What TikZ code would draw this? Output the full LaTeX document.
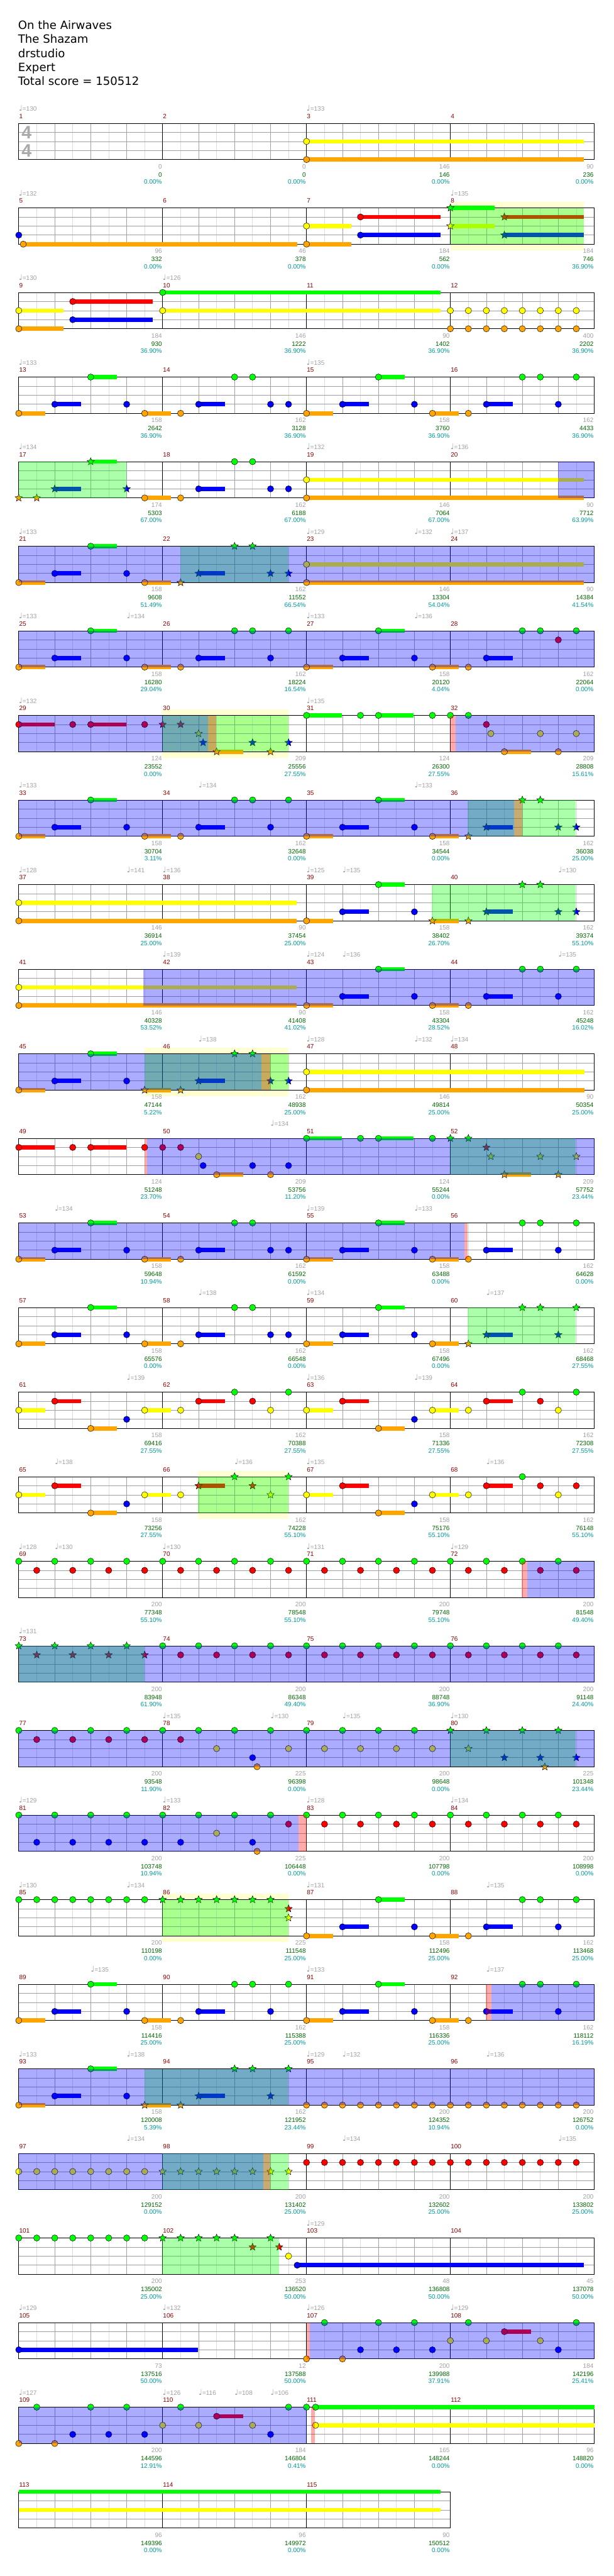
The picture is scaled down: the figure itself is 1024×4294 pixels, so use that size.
\documentclass[tikz,border=0pt]{standalone}
\usepackage{fontspec}
\setmainfont{DejaVu Sans}
\newfontfamily\labfont{Liberation Sans}
\newfontfamily\notefont{DejaVu Sans}
\usetikzlibrary{shapes.geometric}
\definecolor{lane0}{HTML}{00FF00}
\definecolor{lane1}{HTML}{FF0000}
\definecolor{lane2}{HTML}{FFFF00}
\definecolor{lane3}{HTML}{0000FF}
\definecolor{lane4}{HTML}{FFA500}
\definecolor{gridlt}{HTML}{DCDCDC}
\definecolor{gridmd}{HTML}{A0A0A0}
\definecolor{mnumred}{HTML}{8B0000}
\definecolor{labgray}{HTML}{A0A0A0}
\definecolor{labgreen}{HTML}{006400}
\definecolor{labteal}{HTML}{009999}
\definecolor{bandyel}{HTML}{FFFFD2}
\definecolor{tsiggray}{HTML}{AAAAAA}

\def\spA{-9}\def\spB{-9}
\newcommand\qn{{\notefont\fontsize{13}{13}\selectfont ♩}}
\newcommand\nt[2]{%
  \pgfmathtruncatemacro\isst{and(#1>\spA-0.05,#1<\spB+0.05)}%
  \ifnum\isst=1 \node[snote, fill=lane#2] at (#1,#2) {};%
  \else \node[cnote, fill=lane#2] at (#1,#2) {};\fi}
\newcommand\sus[3]{\draw[susline, lane#2] (#1,#2) -- (#3,#2); \nt{#1}{#2}}
\newcommand\riff[3]{%
  \sus{#1+2}{3}{#1+3.47}\sus{#1+4}{0}{#1+5.47}\nt{#1+6}{3}%
  \sus{#1+7}{4}{#1+8.47}\nt{#1+9}{4}\sus{#1+10}{3}{#1+11.47}%
  \nt{#1+12}{0}\nt{#1+13}{0}\nt{#1+14}{#2}\nt{#1+15}{#3}}
\newcommand\riffC{%
  \sus{0}{1}{1.98}\nt{3}{1}\sus{4}{1}{5.98}\nt{7}{1}\nt{8}{1}\nt{9}{1}%
  \nt{10}{2}\nt{10.25}{3}\sus{11}{4}{12.47}\nt{13}{3}\nt{14}{4}\nt{15}{3}%
  \sus{16}{0}{17.96}\nt{19}{0}\sus{20}{0}{21.96}\nt{23}{0}\nt{24}{0}\nt{25}{0}%
  \nt{26}{1}\nt{26.25}{2}\sus{27}{4}{28.47}\nt{29}{2}\nt{30}{4}\nt{31}{2}}
\newcommand\riffD[1]{%
  \sus{0}{2}{1.47}\sus{2}{1}{3.47}\sus{4}{4}{5.47}\nt{6}{3}\sus{7}{2}{8.47}\nt{9}{2}%
  \sus{10}{1}{11.47}\nt{12}{0}\nt{13}{1}\nt{14}{2}\nt{15}{0}%
  \sus{16}{2}{17.47}\sus{18}{1}{19.47}\sus{20}{4}{21.47}\nt{22}{3}\sus{23}{2}{24.47}\nt{25}{2}%
  \sus{26}{1}{27.47}\nt{28}{0}\nt{29}{1}\nt{30}{2}\nt{31}{#1}}
\newcommand\staff[2]{%
  \pgfmathtruncatemacro\qlast{8*#1-1}%
  \pgfmathtruncatemacro\klast{#1-1}%
  \foreach \q in {1,3,...,\qlast} \draw[gridlight] (\q,0) -- (\q,4);
  \foreach \q in {2,4,...,\qlast} \draw[gridbeat] (\q,0) -- (\q,4);
  \foreach \l in {1,2,3} \draw[gridbeat] (0,\l) -- (8*#1,\l);
  \foreach \k in {1,...,\klast} \draw[measline] (8*\k,0) -- (8*\k,4);
  \draw[measline] (0,0) rectangle (8*#1,4);
  \foreach \k in {0,...,\klast} {\pgfmathtruncatemacro\mn{#2+\k}\node[mnum] at (8*\k,0) {\mn};}}
\newcommand\tempi[1]{\foreach \p/\t in {#1} {\node[tempo] at (\p,0) {\qn=\t};}}
\newcommand\mlabels[1]{\foreach \k/\a/\b/\c in {#1} {%
  \node[lblA] at (8*\k,4) {\a};
  \node[lblB] at (8*\k,4) {\b};
  \node[lblC] at (8*\k,4) {\c\%};}}
\newcommand\band[2]{\fill[bandyel] (#1,-0.66) rectangle (#2,4.66);}
\newcommand\spzone{\fill[spfill] (\spA,0) rectangle (\spB,4);}
\newcommand\solo[2]{\fill[solofill] (#1,0) rectangle (#2,4);}
\newcommand\cutzone[2]{\fill[cutfill] (#1,0) rectangle (#2,4);}

\begin{document}
\begin{tikzpicture}[x=1pt, y=-1pt,
  rowat/.style={shift={(31.3pt,{-205.5pt-141pt*#1})}, x=30pt, y=-15.125pt},
  lab/.style={font={\labfont\fontsize{10.5}{12}\selectfont}, inner sep=0pt},
  title/.style={font={\fontsize{19}{23}\selectfont}, anchor=base west, inner sep=0pt},
  tsig/.style={font={\labfont\bfseries\fontsize{30}{30}\selectfont}, text=tsiggray, anchor=base, inner sep=0pt},
  mnum/.style={lab, text=mnumred, anchor=base west, yshift=8pt, xshift=0.5pt},
  tempo/.style={lab, text=labgray, anchor=base west, yshift=20pt},
  lblA/.style={lab, text=labgray, anchor=base east, xshift=-1pt, yshift=-15.3pt},
  lblB/.style={lab, text=labgreen, anchor=base east, xshift=-1pt, yshift=-28.7pt},
  lblC/.style={lab, text=labteal, anchor=base east, xshift=-1pt, yshift=-41pt},
  gridlight/.style={gridlt, line width=0.8pt},
  gridbeat/.style={gridmd, line width=0.8pt},
  measline/.style={black, line width=0.9pt},
  cnote/.style={circle, draw=black, line width=0.5pt, inner sep=0pt, minimum size=10.5pt},
  snote/.style={star, star points=5, star point ratio=2.3, draw=black, line width=0.5pt, inner sep=0pt, minimum size=13pt},
  susline/.style={line width=7pt},
  spfill/.style={fill=lane0, fill opacity=0.33},
  solofill/.style={fill=lane3, fill opacity=0.33},
  cutfill/.style={fill=lane1, fill opacity=0.33}
]
\useasboundingbox (0,0) rectangle (1024,4294);

\node[title] (song) at (30,49) {On the Airwaves};
\node[title] (artist) at (30,72.2) {The Shazam};
\node[title] (charter) at (30,95.4) {drstudio};
\node[title] (diff) at (30,118.6) {Expert};
\node[title] (score) at (30,141.8) {Total score = 150512};

% measures 1-4
\begin{scope}[rowat=0]
  \staff{4}{1}
  \tempi{0/130,16/133}
  \sus{16}{2}{31.43}\sus{16}{4}{31.43}
  \mlabels{1/0/0/0.00,2/0/0/0.00,3/146/146/0.00,4/90/236/0.00}
\end{scope}
\node[tsig] (tsup) at (44.5,231) {4};
\node[tsig] (tsdn) at (44.5,262) {4};

% measures 5-8
\begin{scope}[rowat=1]
  \def\spA{24}\def\spB{31.43}
  \band{24}{31.43}
  \staff{4}{5}
  \tempi{0/132,24/135}
  \nt{0}{3}\sus{0.25}{4}{15.48}
  \sus{16}{2}{18.48}\sus{16}{4}{18.48}\sus{19}{1}{23.47}\sus{19}{3}{23.47}
  \sus{24}{0}{26.46}\sus{24}{2}{26.46}\sus{27}{1}{31.43}\sus{27}{3}{31.43}
  \spzone
  \mlabels{1/96/332/0.00,2/46/378/0.00,3/184/562/0.00,4/184/746/36.90}
\end{scope}

% measures 9-12
\begin{scope}[rowat=2]
  \staff{4}{9}
  \tempi{0/130,8/126}
  \sus{0}{2}{2.48}\sus{0}{4}{2.48}\sus{3}{1}{7.46}\sus{3}{3}{7.46}
  \sus{8}{0}{23.46}\sus{8}{2}{23.46}
  \foreach \p in {24,...,31} {\nt{\p}{2}\nt{\p}{4}}
  \mlabels{1/184/930/36.90,2/146/1222/36.90,3/90/1402/36.90,4/400/2202/36.90}
\end{scope}

% measures 13-16
\begin{scope}[rowat=3]
  \staff{4}{13}
  \tempi{0/133,16/135}
  \sus{0}{4}{1.47}\riff{0}{3}{3}\sus{16}{4}{17.47}\riff{16}{3}{0}
  \mlabels{1/158/2642/36.90,2/162/3128/36.90,3/158/3760/36.90,4/162/4433/36.90}
\end{scope}

% measures 17-20
\begin{scope}[rowat=4]
  \def\spA{0}\def\spB{5.98}
  \staff{4}{17}
  \tempi{0/134,16/132,24/136}
  \nt{0}{4}\nt{1}{4}\riff{0}{3}{3}
  \sus{16}{2}{31.41}\sus{16}{4}{31.41}
  \spzone\solo{30}{32}
  \mlabels{1/174/5303/67.00,2/162/6188/67.00,3/146/7064/67.00,4/90/7712/63.99}
\end{scope}

% measures 21-24
\begin{scope}[rowat=5]
  \def\spA{8.98}\def\spB{14.98}
  \staff{4}{21}
  \tempi{0/133,16/129,22/132,24/137}
  \sus{0}{4}{1.47}\riff{0}{3}{3}
  \sus{16}{2}{31.41}\sus{16}{4}{31.41}
  \spzone\solo{0}{32}
  \mlabels{1/158/9608/51.49,2/162/11552/66.54,3/146/13304/54.04,4/90/14384/41.54}
\end{scope}

% measures 25-28
\begin{scope}[rowat=6]
  \staff{4}{25}
  \tempi{0/133,6/134,16/133,22/136}
  \sus{0}{4}{1.47}\riff{0}{3}{0}\sus{16}{4}{17.47}\riff{16}{1}{0}
  \solo{0}{32}
  \mlabels{1/158/16280/29.04,2/162/18224/16.54,3/158/20120/4.04,4/162/22064/0.00}
\end{scope}

% measures 29-32
\begin{scope}[rowat=7]
  \def\spA{7.98}\def\spB{14.98}
  \band{7.98}{14.98}
  \staff{4}{29}
  \tempi{0/132,16/135}
  \riffC
  \spzone\solo{0}{10.54}\cutzone{10.54}{10.98}\cutzone{23.96}{24.28}\solo{24.28}{32}
  \mlabels{1/124/23552/0.00,2/209/25556/27.55,3/124/26300/27.55,4/209/28808/15.61}
\end{scope}

% measures 33-36
\begin{scope}[rowat=8]
  \def\spA{24.96}\def\spB{30.96}
  \staff{4}{33}
  \tempi{0/133,10/134,22/133}
  \sus{0}{4}{1.47}\riff{0}{3}{0}\sus{16}{4}{17.47}\riff{16}{3}{3}
  \spzone\solo{0}{27.54}\cutzone{27.54}{27.98}
  \mlabels{1/158/30704/3.11,2/162/32648/0.00,3/158/34544/0.00,4/162/36038/25.00}
\end{scope}

% measures 37-40
\begin{scope}[rowat=9]
  \def\spA{22.96}\def\spB{30.96}
  \staff{4}{37}
  \tempi{0/128,6/141,8/136,16/125,18/135,30/130}
  \sus{0}{2}{15.46}\sus{0}{4}{15.46}\sus{16}{4}{17.47}\riff{16}{3}{3}
  \spzone
  \mlabels{1/146/36914/25.00,2/90/37454/25.00,3/158/38402/26.70,4/162/39374/55.10}
\end{scope}

% measures 41-44
\begin{scope}[rowat=10]
  \staff{4}{41}
  \tempi{8/139,16/124,18/136,30/135}
  \sus{0}{2}{15.46}\sus{0}{4}{15.46}\sus{16}{4}{17.47}\riff{16}{3}{0}
  \solo{6.93}{32}
  \mlabels{1/146/40328/53.52,2/90/41408/41.02,3/158/43304/28.52,4/162/45248/16.02}
\end{scope}

% measures 45-48
\begin{scope}[rowat=11]
  \def\spA{6.98}\def\spB{14.98}
  \band{6.98}{14.98}
  \staff{4}{45}
  \tempi{10/138,16/128,22/132,24/134}
  \sus{0}{4}{1.47}\riff{0}{3}{3}
  \sus{16}{2}{31.46}\sus{16}{4}{31.46}
  \spzone\solo{0}{13.48}\cutzone{13.48}{13.98}
  \mlabels{1/158/47144/5.22,2/162/48938/25.00,3/146/49814/25.00,4/90/50354/25.00}
\end{scope}

% measures 49-52
\begin{scope}[rowat=12]
  \def\spA{23.96}\def\spB{30.96}
  \staff{4}{49}
  \tempi{14/134}
  \riffC
  \spzone\cutzone{7}{7.15}\solo{7.15}{32}
  \mlabels{1/124/51248/23.70,2/209/53756/11.20,3/124/55244/0.00,4/209/57752/23.44}
\end{scope}

% measures 53-56
\begin{scope}[rowat=13]
  \staff{4}{53}
  \tempi{2/134,16/139,22/133}
  \sus{0}{4}{1.47}\riff{0}{3}{3}\sus{16}{4}{17.47}\riff{16}{3}{0}
  \solo{0}{24.78}\cutzone{24.78}{24.96}
  \mlabels{1/158/59648/10.94,2/162/61592/0.00,3/158/63488/0.00,4/162/64628/0.00}
\end{scope}

% measures 57-60
\begin{scope}[rowat=14]
  \def\spA{24.96}\def\spB{30.96}
  \staff{4}{57}
  \tempi{10/138,16/134,26/137}
  \sus{0}{4}{1.47}\riff{0}{3}{3}\sus{16}{4}{17.47}\riff{16}{3}{0}
  \spzone
  \mlabels{1/158/65576/0.00,2/162/66548/0.00,3/158/67496/0.00,4/162/68468/27.55}
\end{scope}

% measures 61-64
\begin{scope}[rowat=15]
  \staff{4}{61}
  \tempi{6/139,16/136,22/139}
  \riffD{0}
  \mlabels{1/158/69416/27.55,2/162/70388/27.55,3/158/71336/27.55,4/162/72308/27.55}
\end{scope}

% measures 65-68
\begin{scope}[rowat=16]
  \def\spA{9.98}\def\spB{14.98}
  \band{9.98}{14.98}
  \staff{4}{65}
  \tempi{2/138,12/136,16/135,26/136}
  \riffD{1}
  \spzone
  \mlabels{1/158/73256/27.55,2/162/74228/55.10,3/158/75176/55.10,4/162/76148/55.10}
\end{scope}

% measures 69-72
\begin{scope}[rowat=17]
  \staff{4}{69}
  \tempi{0/128,2/130,8/130,16/131,24/129}
  \foreach \p in {0,2,...,30} {\nt{\p}{0}}
  \foreach \p in {1,3,...,31} {\nt{\p}{1}}
  \cutzone{27.96}{28.28}\solo{28.28}{32}
  \mlabels{1/200/77348/55.10,2/200/78548/55.10,3/200/79748/55.10,4/200/81548/49.40}
\end{scope}

% measures 73-76
\begin{scope}[rowat=18]
  \def\spA{0}\def\spB{6.98}
  \staff{4}{73}
  \tempi{0/131}
  \foreach \p in {0,2,...,30} {\nt{\p}{0}}
  \foreach \p in {1,3,...,31} {\nt{\p}{1}}
  \spzone\solo{0}{32}
  \mlabels{1/200/83948/61.90,2/200/86348/49.40,3/200/88748/36.90,4/200/91148/24.40}
\end{scope}

% measures 77-80
\begin{scope}[rowat=19]
  \def\spA{23.96}\def\spB{30.96}
  \staff{4}{77}
  \tempi{8/135,14/130,18/135,24/130}
  \foreach \p in {0,2,...,30} {\nt{\p}{0}}
  \foreach \p in {1,3,5,7,9} {\nt{\p}{1}}
  \foreach \p in {11,15,17,19,21,23,25} {\nt{\p}{2}}
  \foreach \p in {13,27,29,31} {\nt{\p}{3}}
  \nt{13.25}{4}\nt{29.25}{4}
  \spzone\solo{0}{32}
  \mlabels{1/200/93548/11.90,2/225/96398/0.00,3/200/98648/0.00,4/225/101348/23.44}
\end{scope}

% measures 81-84
\begin{scope}[rowat=20]
  \staff{4}{81}
  \tempi{0/129,8/133,16/128,24/134}
  \foreach \p in {0,2,...,30} {\nt{\p}{0}}
  \foreach \p in {1,3,5,7,9,13} {\nt{\p}{3}}
  \nt{11}{2}\nt{13.25}{4}
  \foreach \p in {15,17,...,31} {\nt{\p}{1}}
  \solo{0}{15.54}\cutzone{15.54}{16}
  \mlabels{1/200/103748/10.94,2/225/106448/0.00,3/200/107798/0.00,4/200/108998/0.00}
\end{scope}

% measures 85-88
\begin{scope}[rowat=21]
  \def\spA{7.98}\def\spB{14.98}
  \band{7.98}{14.98}
  \staff{4}{85}
  \tempi{0/130,6/134,16/131,26/135}
  \foreach \p in {0,...,14} {\nt{\p}{0}}
  \nt{15}{1}\nt{15}{2}
  \sus{16}{4}{17.47}\riff{16}{3}{0}
  \spzone
  \mlabels{1/200/110198/0.00,2/225/111548/25.00,3/158/112496/25.00,4/162/113468/25.00}
\end{scope}

% measures 89-92
\begin{scope}[rowat=22]
  \staff{4}{89}
  \tempi{4/135,16/133,26/137}
  \sus{0}{4}{1.47}\riff{0}{3}{0}\sus{16}{4}{17.47}\riff{16}{3}{0}
  \cutzone{25.96}{26.28}\solo{26.28}{32}
  \mlabels{1/158/114416/25.00,2/162/115388/25.00,3/158/116336/25.00,4/162/118112/16.19}
\end{scope}

% measures 93-96
\begin{scope}[rowat=23]
  \def\spA{6.98}\def\spB{14.98}
  \staff{4}{93}
  \tempi{0/133,6/138,16/129,18/132,26/136}
  \sus{0}{4}{1.47}\riff{0}{3}{0}
  \foreach \p in {16,...,31} {\nt{\p}{4}}
  \spzone\solo{0}{32}
  \mlabels{1/158/120008/5.39,2/162/121952/23.44,3/200/124352/10.94,4/200/126752/0.00}
\end{scope}

% measures 97-100
\begin{scope}[rowat=24]
  \def\spA{7.98}\def\spB{14.98}
  \staff{4}{97}
  \tempi{6/134,18/134,30/135}
  \foreach \p in {0,...,15} {\nt{\p}{2}}
  \foreach \p in {16,...,31} {\nt{\p}{1}}
  \spzone\solo{0}{13.6}\cutzone{13.6}{13.98}
  \mlabels{1/200/129152/0.00,2/200/131402/25.00,3/200/132602/25.00,4/200/133802/25.00}
\end{scope}

% measures 101-104
\begin{scope}[rowat=25]
  \def\spA{7.98}\def\spB{14.48}
  \staff{4}{101}
  \tempi{16/129}
  \foreach \p in {0,...,12} {\nt{\p}{0}}
  \nt{14}{0}\nt{13}{1}\nt{14.48}{1}\nt{15}{2}\sus{15.48}{3}{31.41}
  \spzone
  \mlabels{1/200/135002/25.00,2/253/136520/50.00,3/48/136808/50.00,4/45/137078/50.00}
\end{scope}

% measures 105-108
\begin{scope}[rowat=26]
  \staff{4}{105}
  \tempi{0/129,8/132,16/126,24/129}
  \sus{0}{3}{9.98}
  \nt{16}{4}\nt{18}{4}
  \foreach \p in {17,20,22,25,31} {\nt{\p}{0}}
  \foreach \p in {19,21,23,30} {\nt{\p}{3}}
  \foreach \p in {24,26,29} {\nt{\p}{2}}
  \sus{27}{1}{28.47}
  \cutzone{16}{16.2}\solo{16.2}{32}
  \mlabels{1/73/137516/50.00,2/12/137588/50.00,3/200/139988/37.91,4/184/142196/25.41}
\end{scope}

% measures 109-112
\begin{scope}[rowat=27]
  \staff{4}{109}
  \tempi{0/127,8/126,10/116,12/108,14/106}
  \nt{0}{4}\nt{2}{4}
  \foreach \p in {1,4,6,9,15,16} {\nt{\p}{0}}
  \foreach \p in {3,5,7,14} {\nt{\p}{3}}
  \foreach \p in {8,10,13} {\nt{\p}{2}}
  \sus{11}{1}{12.47}
  \sus{16.5}{0}{32}\sus{16.5}{2}{32}
  \solo{0}{16}\cutzone{16.24}{16.46}
  \mlabels{1/200/144596/12.91,2/184/146804/0.41,3/165/148244/0.00,4/96/148820/0.00}
\end{scope}

% measures 113-115
\begin{scope}[rowat=28]
  \staff{3}{113}
  \draw[susline, lane0] (0,0) -- (23.46,0);
  \draw[susline, lane2] (0,2) -- (23.46,2);
  \mlabels{1/96/149396/0.00,2/96/149972/0.00,3/90/150512/0.00}
\end{scope}
\end{tikzpicture}
\end{document}
